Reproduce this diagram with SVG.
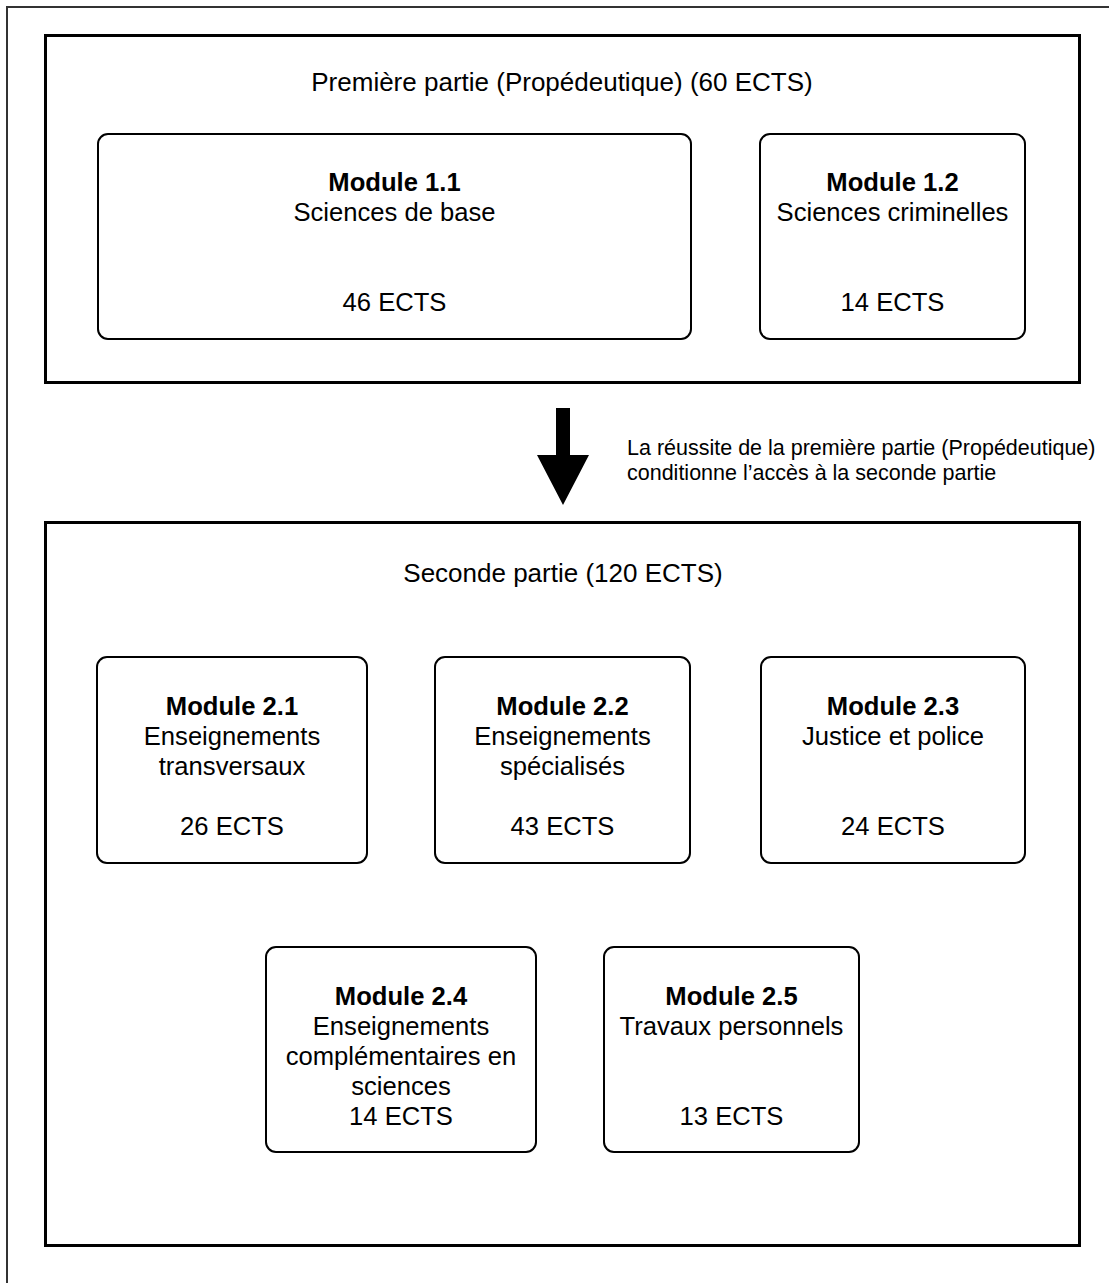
<svg xmlns="http://www.w3.org/2000/svg" width="1109" height="1283" viewBox="0 0 1109 1283">
<style>
.frame{fill:none;stroke:#333;stroke-width:2}
.part{fill:#fff;stroke:#000;stroke-width:3}
.mod{fill:#fff;stroke:#000;stroke-width:2}
text{font-family:"Liberation Sans",Arial,sans-serif;fill:#000}
.title{font-size:26px;text-anchor:middle}
.m{font-size:25.6px;text-anchor:middle}
.b{font-weight:bold}
.note{font-size:21.5px}
</style>
<rect width="1109" height="1283" fill="#fff"/>
<rect class="frame" x="7" y="7" width="1120" height="1300"/>

<g id="part1">
<rect class="part" x="45.5" y="35.5" width="1034" height="347"/>
<text class="title" x="562" y="91">Première partie (Propédeutique) (60 ECTS)</text>
</g>
<g id="module-1-1">
<rect class="mod" x="98" y="134" width="593" height="205" rx="10"/>
<text class="m" x="394.5" y="191"><tspan class="b" x="394.5">Module 1.1</tspan><tspan x="394.5" dy="30">Sciences de base</tspan><tspan x="394.5" dy="90">46 ECTS</tspan></text>
</g>
<g id="module-1-2">
<rect class="mod" x="760" y="134" width="265" height="205" rx="10"/>
<text class="m" x="892.5" y="191"><tspan class="b" x="892.5">Module 1.2</tspan><tspan x="892.5" dy="30">Sciences criminelles</tspan><tspan x="892.5" dy="90">14 ECTS</tspan></text>
</g>

<g id="connectors">
<polygon points="556,408 570,408 570,455 589,455 563,505 537,455 556,455" fill="#000"/>
<text class="note" x="627" y="455">La réussite de la première partie (Propédeutique)</text>
<text class="note" x="627" y="480">conditionne l’accès à la seconde partie</text>
</g>

<g id="part2">
<rect class="part" x="45.5" y="522.5" width="1034" height="723"/>
<text class="title" x="563" y="582">Seconde partie (120 ECTS)</text>
</g>
<g id="module-2-1">
<rect class="mod" x="97" y="657" width="270" height="206" rx="10"/>
<text class="m" x="232" y="715"><tspan class="b" x="232">Module 2.1</tspan><tspan x="232" dy="30">Enseignements</tspan><tspan x="232" dy="30">transversaux</tspan><tspan x="232" dy="60">26 ECTS</tspan></text>
</g>
<g id="module-2-2">
<rect class="mod" x="435" y="657" width="255" height="206" rx="10"/>
<text class="m" x="562.5" y="715"><tspan class="b" x="562.5">Module 2.2</tspan><tspan x="562.5" dy="30">Enseignements</tspan><tspan x="562.5" dy="30">spécialisés</tspan><tspan x="562.5" dy="60">43 ECTS</tspan></text>
</g>
<g id="module-2-3">
<rect class="mod" x="761" y="657" width="264" height="206" rx="10"/>
<text class="m" x="893" y="715"><tspan class="b" x="893">Module 2.3</tspan><tspan x="893" dy="30">Justice et police</tspan><tspan x="893" dy="90">24 ECTS</tspan></text>
</g>
<g id="module-2-4">
<rect class="mod" x="266" y="947" width="270" height="205" rx="10"/>
<text class="m" x="401" y="1005"><tspan class="b" x="401">Module 2.4</tspan><tspan x="401" dy="30">Enseignements</tspan><tspan x="401" dy="30">complémentaires en</tspan><tspan x="401" dy="30">sciences</tspan><tspan x="401" dy="30">14 ECTS</tspan></text>
</g>
<g id="module-2-5">
<rect class="mod" x="604" y="947" width="255" height="205" rx="10"/>
<text class="m" x="731.5" y="1005"><tspan class="b" x="731.5">Module 2.5</tspan><tspan x="731.5" dy="30">Travaux personnels</tspan><tspan x="731.5" dy="90">13 ECTS</tspan></text>
</g>
</svg>
